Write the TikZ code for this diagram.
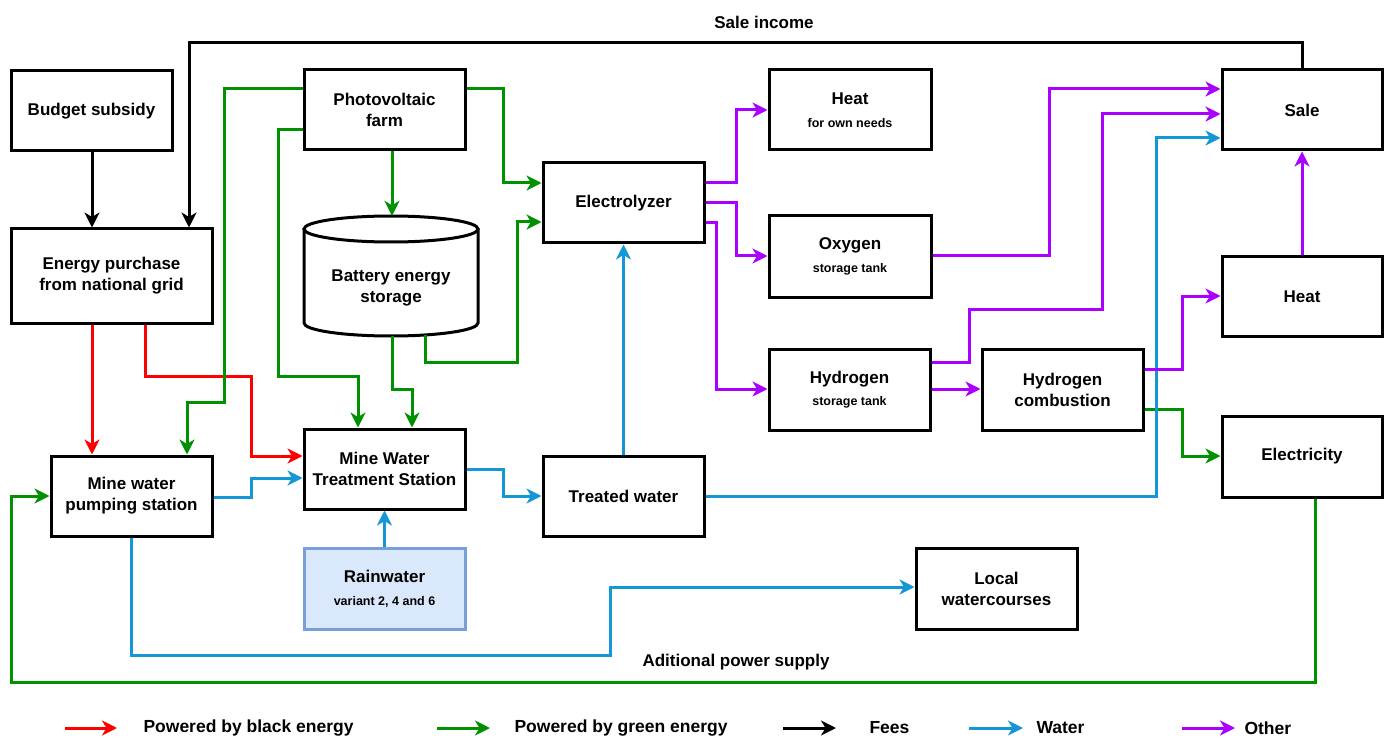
\documentclass[tikz,border=0pt]{standalone}
\usepackage{fontspec}
\setmainfont{Liberation Sans}
\usetikzlibrary{arrows.meta,calc}
\definecolor{cred}{RGB}{255,0,0}
\definecolor{cgrn}{RGB}{0,145,0}
\definecolor{cblu}{RGB}{20,150,215}
\definecolor{cpur}{RGB}{170,0,255}
\definecolor{rainfill}{RGB}{218,232,252}
\definecolor{raindraw}{RGB}{120,160,215}
\tikzset{
  box/.style={draw=black, line width=3pt, fill=white, minimum width=161pt, minimum height=80pt,
    align=center, inner sep=2pt, font=\bfseries\fontsize{17}{21}\selectfont},
  conn/.style={line width=3pt, -{Stealth[length=15pt,width=15pt,inset=4.5pt]}},
  plain/.style={line width=3pt},
  blk/.style={conn, draw=black},
  redc/.style={conn, draw=cred},
  grn/.style={conn, draw=cgrn},
  blu/.style={conn, draw=cblu},
  pur/.style={conn, draw=cpur},
  lbl/.style={font=\bfseries\fontsize{17}{21}\selectfont},
  leg/.style={font=\bfseries\fontsize{17.5}{21}\selectfont, anchor=west},
}
\newcommand{\smalltxt}[1]{{\fontsize{12.5}{15}\selectfont #1}}
\begin{document}
\begin{tikzpicture}[x=1pt,y=-1pt]
\useasboundingbox[fill=white] (0,0) rectangle (1390,738);

% nodes
\node[box] (bud) at (91.5,111) {Budget subsidy};
\node[box, minimum width=201pt, minimum height=94pt] (grid) at (111.5,276) {Energy purchase\\from national grid};
\node[box] (pv) at (384.5,110) {Photovoltaic\\farm};
\node[minimum width=174pt, minimum height=120pt, inner sep=0pt] (bat) at (391,276) {};
\node[box] (pump) at (131.5,496) {Mine water\\pumping station};
\node[box] (mwts) at (384.5,469) {Mine Water\\Treatment Station};
\node[box, draw=raindraw, fill=rainfill, minimum height=81pt] (rain) at (384.5,588.5) {Rainwater\\[2pt]\smalltxt{variant 2, 4 and 6}};
\node[box] (elec) at (623.5,203) {Electrolyzer};
\node[box, minimum width=162pt] (heatown) at (850,110) {Heat\\[2pt]\smalltxt{for own needs}};
\node[box, minimum width=162pt, minimum height=81pt] (oxy) at (850,256.5) {Oxygen\\[2pt]\smalltxt{storage tank}};
\node[box, minimum height=81pt] (h2s) at (849.5,389.5) {Hydrogen\\[1pt]\smalltxt{storage tank}};
\node[box, minimum height=81pt] (h2c) at (1062.5,389.5) {Hydrogen\\combustion};
\node[box] (tw) at (623.5,496) {Treated water};
\node[box, minimum height=81pt] (local) at (996.5,588.5) {Local\\watercourses};
\node[box, minimum width=160pt] (sale) at (1302,110) {Sale};
\node[box, minimum width=160pt, minimum height=79pt] (heat) at (1302,296.5) {Heat};
\node[box, minimum width=160pt, minimum height=81pt] (elecy) at (1302,456.5) {Electricity};

% battery cylinder
\fill[white] (304,229) -- (304,323) arc[start angle=180, end angle=360, x radius=87pt, y radius=13pt] -- (478,229) -- cycle;
\draw[plain] (304,229) -- (304,323) arc[start angle=180, end angle=360, x radius=87pt, y radius=13pt] -- (478,229);
\draw[plain, fill=white] (391,229) ellipse [x radius=87pt, y radius=13pt];
\node[lbl, align=center] at (391,288) {Battery energy\\storage};
\coordinate (batR) at (425,335);

% labels
\node[lbl] (salelbl) at (764,22) {Sale income};
\node[lbl] (addlbl) at (736,662) {Aditional power supply};

% black
\draw[blk] (sale.north) |- (189,43) -- (grid.north -| 189,0);
\draw[blk] (bud.south -| 92,0) -- (grid.north -| 92,0);

% red
\draw[redc] (grid.south -| 92,0) -- (pump.north -| 92,0);
\draw[redc] (grid.south -| 145,0) |- (251,376) |- (mwts.west |- 0,456);

% green
\draw[grn] (pv.west |- 0,89) -| (224,402) -| (pump.north -| 187,0);
\draw[grn] (pv.west |- 0,130) -| (278,376) -| (mwts.north -| 358,0);
\draw[grn] (pv.south -| 392,0) -- (bat.north -| 392,0);
\draw[grn] (bat.south -| 392,0) |- (412,389) -- (mwts.north -| 412,0);
\draw[grn] (batR) |- (517,362) |- (elec.west |- 0,222);
\draw[grn] (pv.east |- 0,89) -| (503,183) -- (elec.west |- 0,183);
\draw[grn] (h2c.east |- 0,409) -| (1182,456) -- (elecy.west |- 0,456);
\draw[grn] (elecy.south -| 1315,0) |- (11,682) |- (pump.west |- 0,496);

% blue
\draw[blu] (pump.east |- 0,497) -| (251,478) -- (mwts.west |- 0,478);
\draw[blu] (pump.south -| 131,0) |- (610,655) |- (local.west |- 0,587);
\draw[blu] (rain.north) -- (mwts.south);
\draw[blu] (mwts.east |- 0,469) -| (503,496) -- (tw.west |- 0,496);
\draw[blu] (tw.north) -- (elec.south);
\draw[blu] (tw.east |- 0,496) -| (1156,138) -- (sale.west |- 0,138);

% purple
\draw[pur] (elec.east |- 0,183) -| (736,110) -- (heatown.west |- 0,110);
\draw[pur] (elec.east |- 0,203) -| (736,256) -- (oxy.west |- 0,256);
\draw[pur] (elec.east |- 0,223) -| (716,389) -- (h2s.west |- 0,389);
\draw[pur] (oxy.east |- 0,256) -| (1049,89) -- (sale.west |- 0,89);
\draw[pur] (h2s.east |- 0,362) -| (969,309) -| (1102,114) -- (sale.west |- 0,114);
\draw[pur] (h2s.east |- 0,389) -- (h2c.west |- 0,389);
\draw[pur] (h2c.east |- 0,369) -| (1182,296) -- (heat.west |- 0,296);
\draw[pur] (heat.north) -- (sale.south);

% legend
\coordinate (l1a) at (65,728); \coordinate (l1b) at (117,728);
\draw[redc] (l1a) -- (l1b);
\node[leg] (t1) at (140,728) {Powered by black energy};
\coordinate (l2a) at (437,728); \coordinate (l2b) at (490,728);
\draw[grn] (l2a) -- (l2b);
\node[leg] (t2) at (511,728) {Powered by green energy};
\coordinate (l3a) at (783,728); \coordinate (l3b) at (836,728);
\draw[blk] (l3a) -- (l3b);
\node[leg] (t3) at (866,728) {Fees};
\coordinate (l4a) at (969,728); \coordinate (l4b) at (1023,728);
\draw[blu] (l4a) -- (l4b);
\node[leg] (t4) at (1033,728) {Water};
\coordinate (l5a) at (1182,728); \coordinate (l5b) at (1235,728);
\draw[pur] (l5a) -- (l5b);
\node[leg] (t5) at (1241,728) {Other};
\end{tikzpicture}
\end{document}
